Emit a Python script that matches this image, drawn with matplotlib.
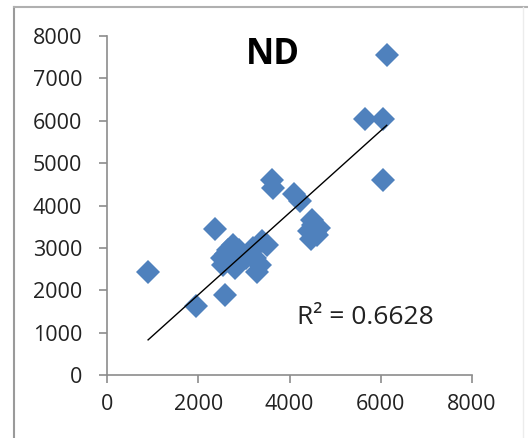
import matplotlib.pyplot as plt
from matplotlib.lines import Line2D
import numpy as np

# ND scatter values (overlapping points in the two clusters)
x_vals = [900, 1950, 2590, 2370,
          2520, 2540, 2600, 2700, 2760, 2800, 2900, 2650,
          3130, 3240, 3350, 3400, 3500, 3290, 3200, 3050,
          3620, 3630, 4090, 4240,
          4420, 4480, 4520, 4560, 4650, 4500, 4600,
          5650, 6050, 6050, 6130]
y_vals = [2440, 1620, 1890, 3450,
          2760, 2600, 2850, 2670, 3070, 2520, 2950, 2950,
          2880, 2760, 2600, 3160, 3070, 2440, 3000, 2750,
          4600, 4420, 4280, 4100,
          3400, 3200, 3550, 3350, 3480, 3650, 3300,
          6050, 6050, 4600, 7550]
x_ticks = [0, 2000, 4000, 6000, 8000]
y_ticks = [0, 1000, 2000, 3000, 4000, 5000, 6000, 7000, 8000]
title = 'ND'
r2_label = 'R² = 0.6628'
# linear trendline as drawn in the picture
trend_slope = 0.968
trend_intercept = -42

plt.rcParams['font.family'] = ['Open Sans', 'DejaVu Sans']

fig = plt.figure(figsize=(5.28, 4.38), dpi=100)
ax = fig.add_axes([0.2027, 0.1438, 0.6913, 0.774])

x = np.array(x_vals)
y = np.array(y_vals)
ax.plot(x, y, linestyle='none', marker='D', markersize=12,
        color='#4F81BD', markeredgewidth=0, zorder=2)

xs = np.array([x.min(), x.max()])
ax.plot(xs, trend_slope * xs + trend_intercept, color='black',
        linewidth=1.0, zorder=3)

ax.set_xlim(0, 8000)
ax.set_ylim(0, 8000)
ax.set_xticks(x_ticks)
ax.set_yticks(y_ticks)
ax.tick_params(direction='out', length=6, width=1.2, color='#8c8c8c',
               labelsize=15.5, labelcolor='#222222')
ax.tick_params(axis='y', pad=12)
ax.tick_params(axis='x', pad=8)
for side in ['top', 'right']:
    ax.spines[side].set_visible(False)
for side in ['left', 'bottom']:
    ax.spines[side].set_color('#8c8c8c')
    ax.spines[side].set_linewidth(1.2)

fig.text(273 / 528, 1 - 55 / 438, title, fontsize=25, fontweight='bold',
         ha='center', va='center')
fig.text(365 / 528, 1 - 318 / 438, r2_label, fontsize=19,
         ha='center', va='center', color='#222222')

# outer chart frame
fig.add_artist(Line2D([14 / 528, 14 / 528], [0, 1 - 7 / 438],
                      transform=fig.transFigure, color='#9a9a9a', linewidth=1.5))
fig.add_artist(Line2D([14 / 528, 1], [1 - 7 / 438, 1 - 7 / 438],
                      transform=fig.transFigure, color='#b0b0b0', linewidth=1.5))
fig.add_artist(Line2D([523 / 528, 523 / 528], [0, 1 - 7 / 438],
                      transform=fig.transFigure, color='#ececec', linewidth=1.0))

fig.savefig('out.png', dpi=100)
